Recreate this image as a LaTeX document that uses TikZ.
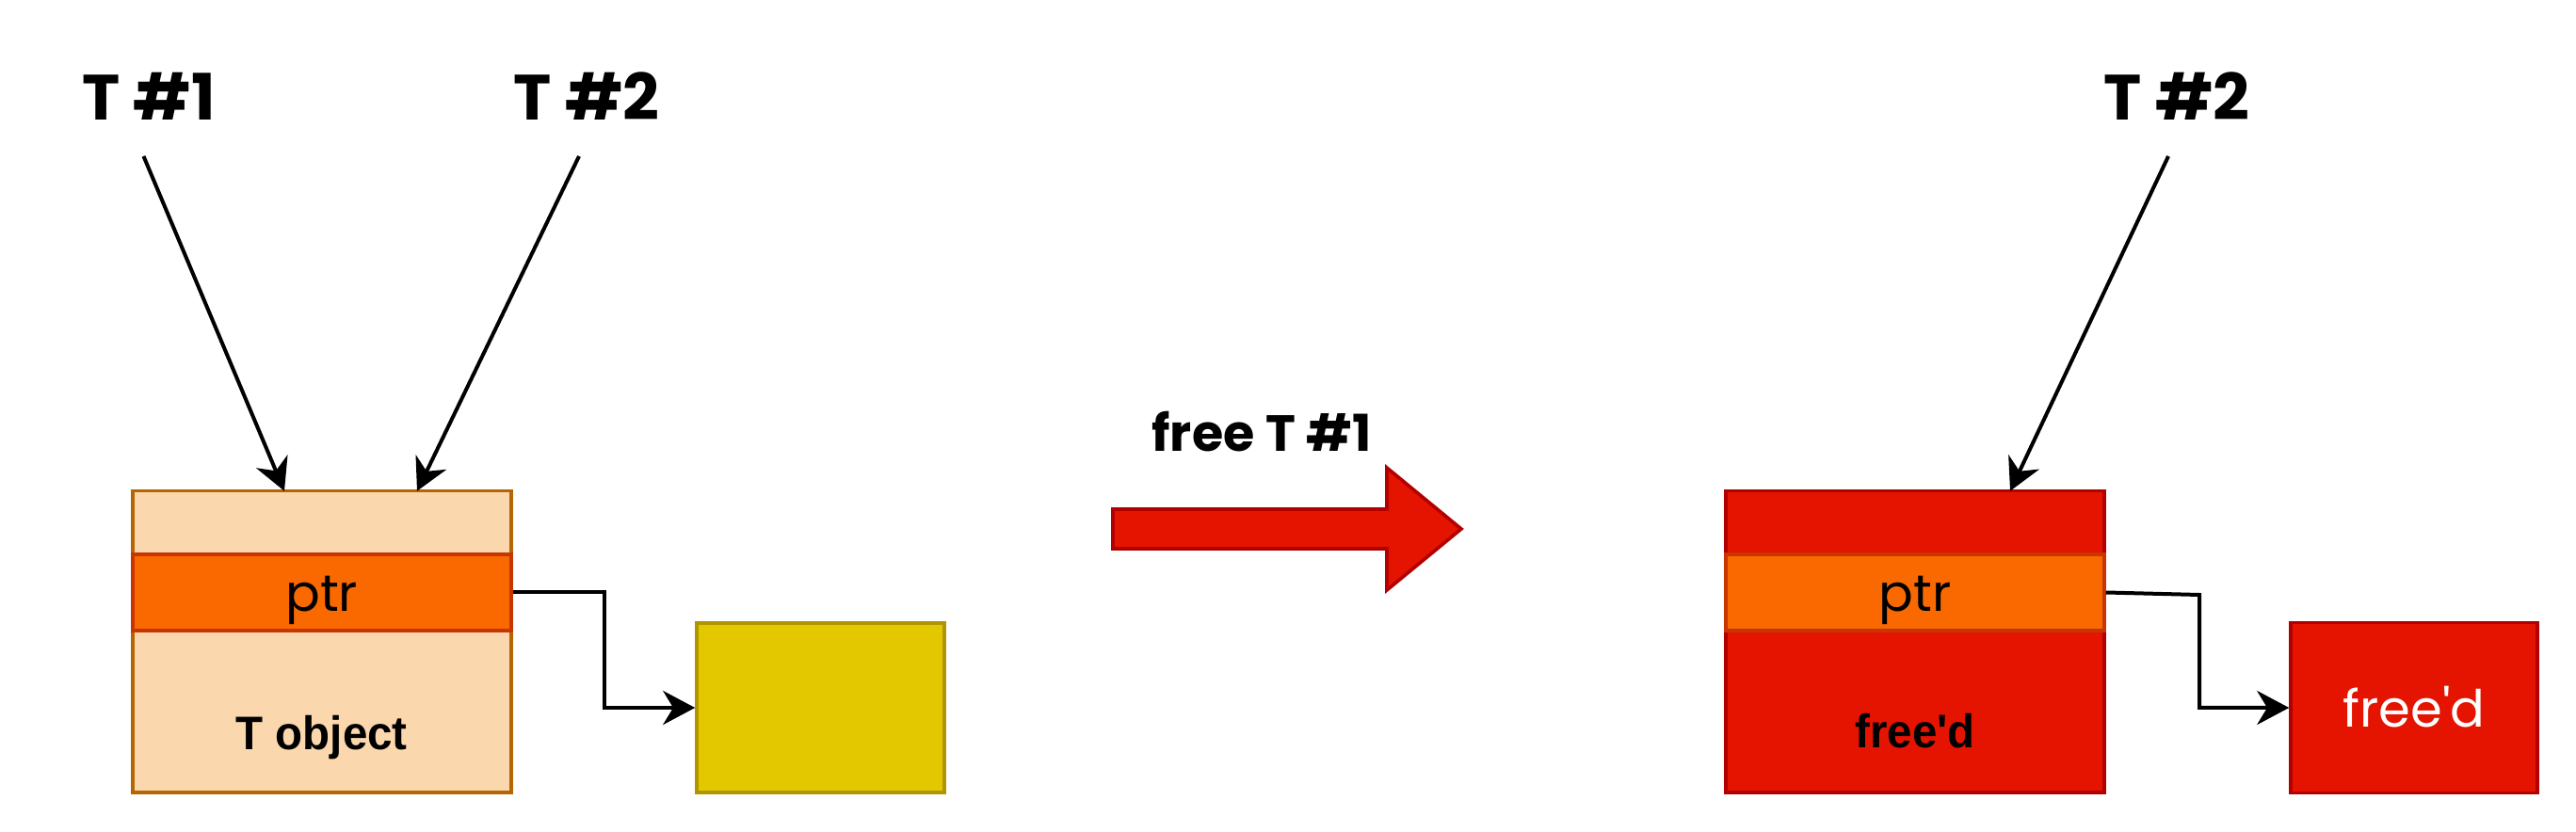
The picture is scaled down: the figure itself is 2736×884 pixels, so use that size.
\documentclass[tikz,border=0pt]{standalone}
\usepackage{fontspec}
\usepackage{graphicx}
\setmainfont{Liberation Sans}[Ligatures=TeXOff]
\newfontfamily\comicfont{Poppins}
\usetikzlibrary{arrows.meta}
\definecolor{peach}{HTML}{FAD7AC}
\definecolor{peachline}{HTML}{B46504}
\definecolor{ptrfill}{HTML}{FA6800}
\definecolor{ptrline}{HTML}{C73500}
\definecolor{yelfill}{HTML}{E3C800}
\definecolor{yelline}{HTML}{B09500}
\definecolor{redfill}{HTML}{E51400}
\definecolor{redline}{HTML}{B20000}
\tikzset{
  memobox/.style={draw, rectangle, inner sep=0pt, line width=0.9pt},
  conn/.style={line width=1pt, -{Stealth[length=8.5pt,width=9pt,inset=2.7pt]}},
  lbl/.style={inner sep=0pt, anchor=base},
  thread/.style={lbl, font=\comicfont\bfseries\fontsize{17}{19}\selectfont},
  ptrlbl/.style={lbl, font=\comicfont\fontsize{13.6}{15}\selectfont},
  boldlbl/.style={lbl, font=\bfseries\fontsize{12.5}{14}\selectfont},
}
\begin{document}
\begin{tikzpicture}[x=0.25pt,y=-0.25pt]
\useasboundingbox (0,0) rectangle (2736,884);

% ---------- left state ----------
\node[memobox, fill=peach, draw=peachline, minimum width=100.5pt, minimum height=80pt] (obj1) at (341.7,681.7) {};
\node[memobox, fill=ptrfill, draw=ptrline, minimum width=100.5pt, minimum height=20.25pt] (ptr1) at (341.7,629.5) {};
\node[ptrlbl] (ptr1t) at (341.7,650) {ptr};
\node[boldlbl] (obj1t) at (341.7,797) {\scalebox{0.95}[1]{T object}};
\node[memobox, fill=yelfill, draw=yelline, minimum width=65.75pt, minimum height=45pt] (yel) at (871.5,752) {};

\node[thread] (t1) at (158,128) {T \#1};
\node[thread] (t2) at (623,128) {T \#2};
\coordinate (t1s) at (152.5,166);
\coordinate (t2s) at (615,166);
\coordinate (obj1a) at (302,521.7);
\coordinate (obj1b) at (443,521.7);
\draw[conn] (t1s) -- (obj1a);
\draw[conn] (t2s) -- (obj1b);
\draw[conn] (ptr1.east) -- (642,629.5) |- (yel.west);

% ---------- big arrow ----------
\node[thread, font=\comicfont\bfseries\fontsize{13.5}{15}\selectfont] (freet) at (1340,480) {free T \#1};
\draw[fill=redfill, draw=redline, line width=0.9pt, line join=miter]
  (1182,541) -- (1473,541) -- (1473,497) -- (1552,562) -- (1473,627) -- (1473,583) -- (1182,583) -- cycle;

% ---------- right state ----------
\node[memobox, fill=redfill, draw=redline, minimum width=100.5pt, minimum height=80pt] (obj2) at (2033.9,681.7) {};
\node[memobox, fill=ptrfill, draw=ptrline, minimum width=100.5pt, minimum height=20.25pt] (ptr2) at (2033.9,629.5) {};
\node[ptrlbl] (ptr2t) at (2033.9,650) {ptr};
\node[boldlbl] (obj2t) at (2034,795) {\scalebox{0.95}[1]{free'd}};
\node[memobox, fill=redfill, draw=redline, minimum width=65.5pt, minimum height=45.25pt] (red2) at (2564,752) {};
\node[ptrlbl, text=white] (red2t) at (2564,773) {free'd};

\node[thread] (t2r) at (2312,128) {T \#2};
\coordinate (t2rs) at (2303,166);
\coordinate (obj2a) at (2135,521.7);
\draw[conn] (t2rs) -- (obj2a);
\draw[conn] (ptr2.east) -- (2336,632) |- (red2.west);
\end{tikzpicture}
\end{document}
